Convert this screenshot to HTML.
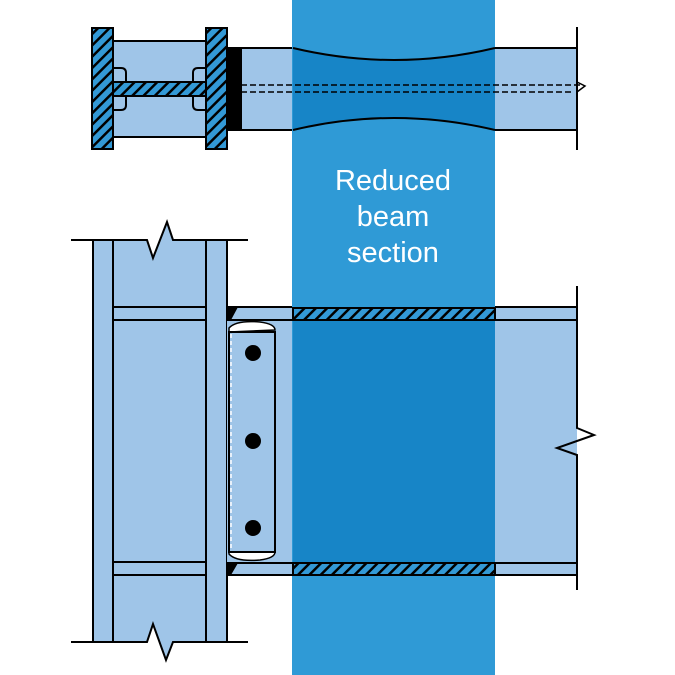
<!DOCTYPE html>
<html><head><meta charset="utf-8"><style>html,body{margin:0;padding:0;background:#fff}svg{display:block}</style></head><body>
<svg width="675" height="675" viewBox="0 0 675 675" xmlns="http://www.w3.org/2000/svg">
<defs>
<pattern id="h" patternUnits="userSpaceOnUse" width="8" height="8" patternTransform="rotate(45)">
<rect width="8" height="8" fill="#3399d6"/><rect x="0" y="0" width="2.5" height="8" fill="#000"/>
</pattern>
</defs>
<g stroke="#000" stroke-width="2" fill="#9fc5e8">
<!-- top plan view -->
<rect x="113" y="41" width="93" height="96"/>
<path d="M241 48 H293 Q394 72 495 48 H577 V130 H495 Q394 106 293 130 H241 Z"/>
<rect x="227" y="48" width="14" height="82" fill="#000"/>
<path d="M113 68 h8 q5 0 5 5 v9 h-13 Z M206 68 h-8 q-5 0 -5 5 v9 h13 Z M113 110 h8 q5 0 5 -5 v-9 h-13 Z M206 110 h-8 q-5 0 -5 -5 v-9 h13 Z" fill="#9fc5e8"/>
<path d="M113 82 H206 V96 H113 Z" fill="url(#h)"/>
<rect x="92" y="28" width="21" height="121" fill="url(#h)"/>
<rect x="206" y="28" width="21" height="121" fill="url(#h)"/>
<line x1="577" y1="27" x2="577" y2="150"/>
<!-- bottom elevation column -->
<path d="M93 240 H147 L153 258 L167 222 L173 240 H227 V642 H173 L166 660 L153 624 L147 642 H93 Z" stroke="none"/>
<line x1="93" y1="240" x2="93" y2="642"/>
<line x1="227" y1="240" x2="227" y2="642"/>
<line x1="113" y1="240" x2="113" y2="642"/>
<line x1="206" y1="240" x2="206" y2="642"/>
<line x1="113" y1="307" x2="206" y2="307"/><line x1="113" y1="320" x2="206" y2="320"/>
<line x1="113" y1="562" x2="206" y2="562"/><line x1="113" y1="575" x2="206" y2="575"/>
<path d="M71 240 H147 L153 258 L167 222 L173 240 H248" fill="none"/>
<path d="M71 642 H147 L153 624 L166 660 L173 642 H248" fill="none"/>
<!-- beam -->
<rect x="227" y="307" width="350" height="268" stroke="none"/>
<line x1="227" y1="307" x2="577" y2="307"/><line x1="227" y1="320" x2="577" y2="320"/>
<line x1="227" y1="563" x2="577" y2="563"/><line x1="227" y1="575" x2="577" y2="575"/>
<path d="M577 286 V428 L594 435 L557 448 L577 455 V590" fill="none"/>
</g>
<!-- band -->
<rect x="292" y="0" width="203" height="675" fill="#2f9ad6"/>
<path d="M293 48 Q394 72 495 48 V130 Q394 106 293 130 Z" fill="#1785c7"/>
<rect x="293" y="307" width="202" height="268" fill="#1785c7"/>
<g stroke="#000" stroke-width="2" fill="none">
<path d="M293 48 Q394 72 495 48 M293 130 Q394 106 495 130"/>
<rect x="293" y="308" width="202" height="12" fill="url(#h)"/>
<rect x="293" y="563" width="202" height="12" fill="url(#h)"/>
<line x1="241" y1="85" x2="580" y2="85" stroke-dasharray="6,3" stroke-width="1.5"/>
<line x1="241" y1="92" x2="572" y2="92" stroke-dasharray="6,3" stroke-width="1.5"/>
<path d="M577 82 L585 86 L577 92" stroke-width="1.5"/>
</g>
<!-- welds and shear tab -->
<path d="M227 307 H238 L231 320 H227 Z M227 563 H238 L231 575 H227 Z" fill="#000"/>
<path d="M229 328 Q236 320 260 322 Q275 324 275 330 L229 332 Z" fill="#fff" stroke="#000" stroke-width="1.5"/>
<path d="M229 550 L275 552 Q275 558 260 560 Q236 562 229 554 Z" fill="#fff" stroke="#000" stroke-width="1.5"/>
<rect x="229" y="332" width="46" height="220" fill="#9fc5e8" stroke="#000" stroke-width="2"/>
<line x1="231" y1="334" x2="231" y2="550" stroke="#fff" stroke-dasharray="4,3" stroke-width="1.5"/>
<circle cx="253" cy="353" r="8" fill="#000"/><circle cx="253" cy="441" r="8" fill="#000"/><circle cx="253" cy="528" r="8" fill="#000"/>
<g font-family="Liberation Sans, sans-serif" font-size="29" fill="#fff" text-anchor="middle">
<text x="393" y="190">Reduced</text><text x="393" y="226">beam</text><text x="393" y="262">section</text>
</g>
</svg>
</body></html>
